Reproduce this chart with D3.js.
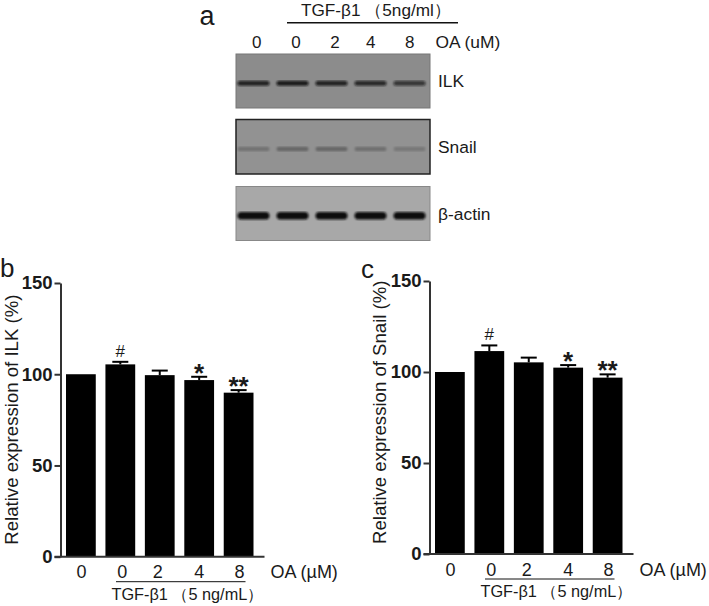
<!DOCTYPE html>
<html>
<head>
<meta charset="utf-8">
<script src="https://cdn.jsdelivr.net/npm/d3@7"></script>
<style>
html, body { margin: 0; padding: 0; background: #fff; }
svg { display: block; }
text { font-family: "Liberation Sans", Arial, sans-serif; fill: #1a1a1a; }
</style>
</head>
<body>
<div id="chart"></div>
<script>
var doses = ["0", "0", "2", "4", "8"];
var ilkValues = [100, 105.4, 99.5, 96.8, 89.9];
var ilkErrors = [0, 1.4, 2.5, 1.8, 1.4];
var snailValues = [100, 111.5, 105.3, 102.4, 96.9];
var snailErrors = [0, 3.1, 2.6, 1.4, 1.8];
var marks = ["", "#", "", "*", "**"];
var yTicks = [0, 50, 100, 150];
var blotNames = ["ILK", "Snail", "β-actin"];
var ilkBands = [0.85, 0.9, 0.85, 0.8, 0.7];
var snailBands = [0.22, 0.3, 0.3, 0.24, 0.18];
var actinBands = [1, 1, 1, 1, 1];

var w = 709;
var h = 606;
var svg = d3.select("#chart").append("svg").attr("width", w).attr("height", h);

var defs = svg.append("defs");
defs.append("filter").attr("id", "soft").append("feGaussianBlur").attr("stdDeviation", 1);

//blot panel
var lanes = d3.scaleBand().domain(d3.range(5)).range([237.5, 425.5]).paddingInner(0.18);
var laneLabelX = [256.7, 296, 335, 370.7, 409.7];

function blot(top, bottom, bg, bands, thick, border) {
	var g = svg.append("g");
	g.append("rect").attr("x", 236).attr("y", top).attr("width", 194).attr("height", bottom - top)
		.attr("fill", bg).attr("stroke", border).attr("stroke-width", border == "#222" ? 1.5 : 1);
	var mid = top + (bottom - top) * 0.54;
	g.selectAll("rect.band").data(bands).enter().append("rect").attr("class", "band")
		.attr("x", function(d, i) { return lanes(i); })
		.attr("width", lanes.bandwidth())
		.attr("y", mid - thick / 2)
		.attr("height", thick)
		.attr("rx", thick / 2)
		.attr("fill", "#111")
		.attr("fill-opacity", function(d) { return d; })
		.attr("filter", "url(#soft)");
}
blot(54, 108, "#8c8c8c", ilkBands, 5, "#777");
blot(119.5, 174, "#929292", snailBands, 4.5, "#222");
blot(186.5, 240.5, "#a8a8a8", actinBands, 7.5, "#888");

svg.append("text").text("a").attr("x", 199.5).attr("y", 24.5).attr("font-size", 27);
svg.append("text").text("TGF-β1 （5ng/ml）").attr("x", 301).attr("y", 15.8).attr("font-size", 17.2);
svg.append("line").attr("x1", 287).attr("x2", 458).attr("y1", 22.7).attr("y2", 22.7).attr("stroke", "#111").attr("stroke-width", 1.4);
svg.selectAll("text.lane").data(doses).enter().append("text").attr("class", "lane")
	.text(function(d) { return d; })
	.attr("x", function(d, i) { return laneLabelX[i]; })
	.attr("y", 47.5).attr("text-anchor", "middle").attr("font-size", 17);
svg.append("text").text("OA (uM)").attr("x", 435.5).attr("y", 47.5).attr("font-size", 17.4);
var blotLabelY = [87.3, 152.7, 220];
svg.selectAll("text.blotname").data(blotNames).enter().append("text").attr("class", "blotname")
	.text(function(d) { return d; })
	.attr("x", 438)
	.attr("y", function(d, i) { return blotLabelY[i]; })
	.attr("font-size", 17.4);

//bar charts
function barChart(opt) {
	var g = svg.append("g").attr("transform", "translate(" + opt.x + "," + opt.y0 + ")");
	var y = d3.scaleLinear().domain([0, 150]).range([0, -opt.height]);
	var x = d3.scaleBand().domain(d3.range(5)).range([5.5, 193]).paddingInner(0.245);
	var doseNudge = [0.7, 2, -2, 0, 1];

	var bars = g.selectAll("g.bar").data(opt.values).enter().append("g").attr("class", "bar");
	bars.append("line")
		.attr("x1", function(d, i) { return x(i) + x.bandwidth() / 2; })
		.attr("x2", function(d, i) { return x(i) + x.bandwidth() / 2; })
		.attr("y1", function(d) { return y(d); })
		.attr("y2", function(d, i) { return y(d + opt.errors[i]); })
		.attr("stroke", function(d, i) { return opt.errors[i] > 0 ? "#000" : "none"; })
		.attr("stroke-width", 2);
	bars.append("line")
		.attr("x1", function(d, i) { return x(i) + x.bandwidth() / 2 - 8; })
		.attr("x2", function(d, i) { return x(i) + x.bandwidth() / 2 + 8; })
		.attr("y1", function(d, i) { return y(d + opt.errors[i]); })
		.attr("y2", function(d, i) { return y(d + opt.errors[i]); })
		.attr("stroke", function(d, i) { return opt.errors[i] > 0 ? "#000" : "none"; })
		.attr("stroke-width", 2);
	bars.append("rect")
		.attr("x", function(d, i) { return x(i); })
		.attr("width", x.bandwidth())
		.attr("y", function(d) { return y(d); })
		.attr("height", function(d) { return -y(d); })
		.attr("fill", "#000");

	var axis = g.append("g").call(d3.axisLeft(y).tickValues(yTicks).tickSize(6).tickPadding(2).tickSizeOuter(0));
	axis.select(".domain").attr("stroke", "#333").attr("stroke-width", 2);
	axis.selectAll(".tick line").attr("stroke", "#333").attr("stroke-width", 2);
	axis.selectAll(".tick text").attr("font-size", 18.5).attr("font-weight", "bold").attr("font-family", "Liberation Sans").attr("fill", "#111");

	g.append("line").attr("x1", -6).attr("x2", 204).attr("y1", 0).attr("y2", 0).attr("stroke", "#333").attr("stroke-width", 2);

	g.selectAll("text.mark").data(marks).enter().append("text").attr("class", "mark")
		.text(function(d) { return d; })
		.attr("x", function(d, i) { return x(i) + x.bandwidth() / 2; })
		.attr("y", function(d, i) {
			var offset = d == "#" ? 5 : -5;
			return y(opt.values[i] + opt.errors[i]) - offset;
		})
		.attr("text-anchor", "middle")
		.attr("font-size", function(d) { return d == "#" ? 17 : 26; })
		.attr("font-weight", function(d) { return d == "#" ? "normal" : "bold"; });

	g.selectAll("text.dose").data(doses).enter().append("text").attr("class", "dose")
		.text(function(d) { return d; })
		.attr("x", function(d, i) { return x(i) + x.bandwidth() / 2 + doseNudge[i]; })
		.attr("y", 21.5).attr("text-anchor", "middle").attr("font-size", 18);
	g.append("text").text("OA (µM)").attr("x", 210).attr("y", 21.5).attr("font-size", 18);
	g.append("line").attr("x1", 55.5).attr("x2", 185).attr("y1", 25).attr("y2", 25).attr("stroke", "#111").attr("stroke-width", 1);
	g.append("text").text("TGF-β1 （5 ng/mL）").attr("x", 51).attr("y", 43).attr("font-size", 16.3);

	g.append("text").text(opt.title)
		.attr("transform", "translate(" + opt.titleX + "," + opt.titleY + ") rotate(-90)")
		.attr("font-size", 18.6);
	svg.append("text").text(opt.letter).attr("x", opt.letterX).attr("y", opt.letterY).attr("font-size", 26);
}

barChart({ x: 60.5, y0: 556.7, height: 273.7, values: ilkValues, errors: ilkErrors, title: "Relative expression of ILK (%)", titleX: -43, titleY: -12, letter: "b", letterX: 0, letterY: 277 });
barChart({ x: 429.5, y0: 554, height: 273, values: snailValues, errors: snailErrors, title: "Relative expression of Snail (%)", titleX: -43.5, titleY: -10, letter: "c", letterX: 361, letterY: 278 });
</script>
</body>
</html>
